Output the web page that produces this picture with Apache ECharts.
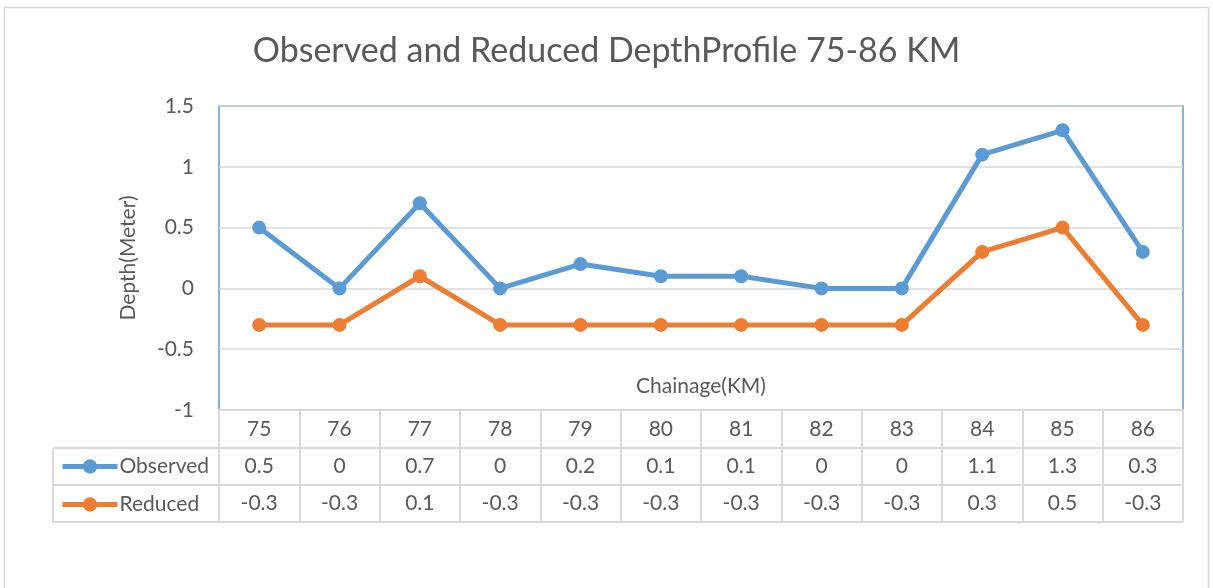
<!DOCTYPE html>
<html><head><meta charset="utf-8">
<script src="https://cdn.jsdelivr.net/npm/echarts@6/dist/echarts.min.js"></script>
<style>html,body{margin:0;padding:0;background:#fff}#c{width:1213px;height:588px}</style>
</head><body><div id="c"></div>
<script>
const categories = ['75','76','77','78','79','80','81','82','83','84','85','86'];
const observed = [0.5, 0, 0.7, 0, 0.2, 0.1, 0.1, 0, 0, 1.1, 1.3, 0.3];
const reduced = [-0.3, -0.3, 0.1, -0.3, -0.3, -0.3, -0.3, -0.3, -0.3, 0.3, 0.5, -0.3];
const yTicks = [-1, -0.5, 0, 0.5, 1, 1.5];

const FONT = 'Lato';
const GRAY = '#595959';
const LINE = '#D9D9D9';
const FS = 21;
const chart = echarts.init(document.getElementById('c'), null, {renderer: 'canvas'});

function rowAxis(values, offset) {
  return {
    type: 'category', data: categories, position: 'bottom', offset: offset, gridIndex: 0,
    axisLine: {show: false, onZero: false}, axisTick: {show: false},
    axisLabel: {margin: 8, fontFamily: FONT, fontSize: FS, color: GRAY,
      formatter: (v, i) => String(values[i])}
  };
}

chart.setOption({
  animation: false,
  title: {text: 'Observed and Reduced DepthProfile 75-86 KM', left: 'center', top: 29,
    textStyle: {fontFamily: FONT, fontSize: 34, fontWeight: 'normal', color: GRAY}},
  grid: {left: 219, right: 30, top: 106, bottom: 178, show: true,
    borderColor: '#5B9BD5', borderWidth: 1.5, backgroundColor: 'transparent'},
  legend: {orient: 'vertical', left: 60, top: 456, padding: 0, itemGap: 17, itemWidth: 55, itemHeight: 18,
    lineStyle: {width: 5}, itemStyle: {borderWidth: 0},
    textStyle: {fontFamily: FONT, fontSize: FS, color: GRAY, padding: [0,0,0,-3]},
    data: ['Observed', 'Reduced']},
  xAxis: [
    {type: 'category', data: categories, boundaryGap: true,
      axisLine: {show: true, onZero: false, lineStyle: {color: LINE, width: 2}},
      axisTick: {show: true, length: 112, lineStyle: {color: LINE, width: 2}},
      axisLabel: {margin: 9, fontFamily: FONT, fontSize: FS, color: GRAY}},
    rowAxis(observed, 38),
    rowAxis(reduced, 75)
  ],
  yAxis: {type: 'value', min: yTicks[0], max: yTicks[yTicks.length-1], interval: 0.5,
    name: 'Depth(Meter)', nameLocation: 'middle', nameGap: 80,
    nameTextStyle: {fontFamily: FONT, fontSize: FS, color: GRAY},
    axisLine: {show: false}, axisTick: {show: false},
    axisLabel: {margin: 25, fontFamily: FONT, fontSize: FS, color: GRAY},
    splitLine: {lineStyle: {color: LINE, width: 1.5}}},
  series: [
    {name: 'Observed', type: 'line', data: observed, xAxisIndex: 0, symbol: 'circle', symbolSize: 14,
      itemStyle: {color: '#5B9BD5'}, lineStyle: {color: '#5B9BD5', width: 5}, z: 3},
    {name: 'Reduced', type: 'line', data: reduced, xAxisIndex: 0, symbol: 'circle', symbolSize: 14,
      itemStyle: {color: '#ED7D31'}, lineStyle: {color: '#ED7D31', width: 5}, z: 4}
  ],
  graphic: [
    {type: 'rect', shape: {x: 4.5, y: 7.5, width: 1204, height: 600}, style: {fill: 'none', stroke: LINE, lineWidth: 1.5}, silent: true},
    {type: 'text', x: 701, y: 386, style: {text: 'Chainage(KM)', font: FS + 'px ' + FONT, fill: GRAY, align: 'center', verticalAlign: 'middle'}},
    {type: 'line', shape: {x1: 53, y1: 448, x2: 1183, y2: 448}, style: {stroke: LINE, lineWidth: 2}},
    {type: 'line', shape: {x1: 53, y1: 485, x2: 1183, y2: 485}, style: {stroke: LINE, lineWidth: 2}},
    {type: 'line', shape: {x1: 53, y1: 522, x2: 1183, y2: 522}, style: {stroke: LINE, lineWidth: 2}},
    {type: 'line', shape: {x1: 53, y1: 448, x2: 53, y2: 522}, style: {stroke: LINE, lineWidth: 2}}
  ]
});
</script></body></html>
